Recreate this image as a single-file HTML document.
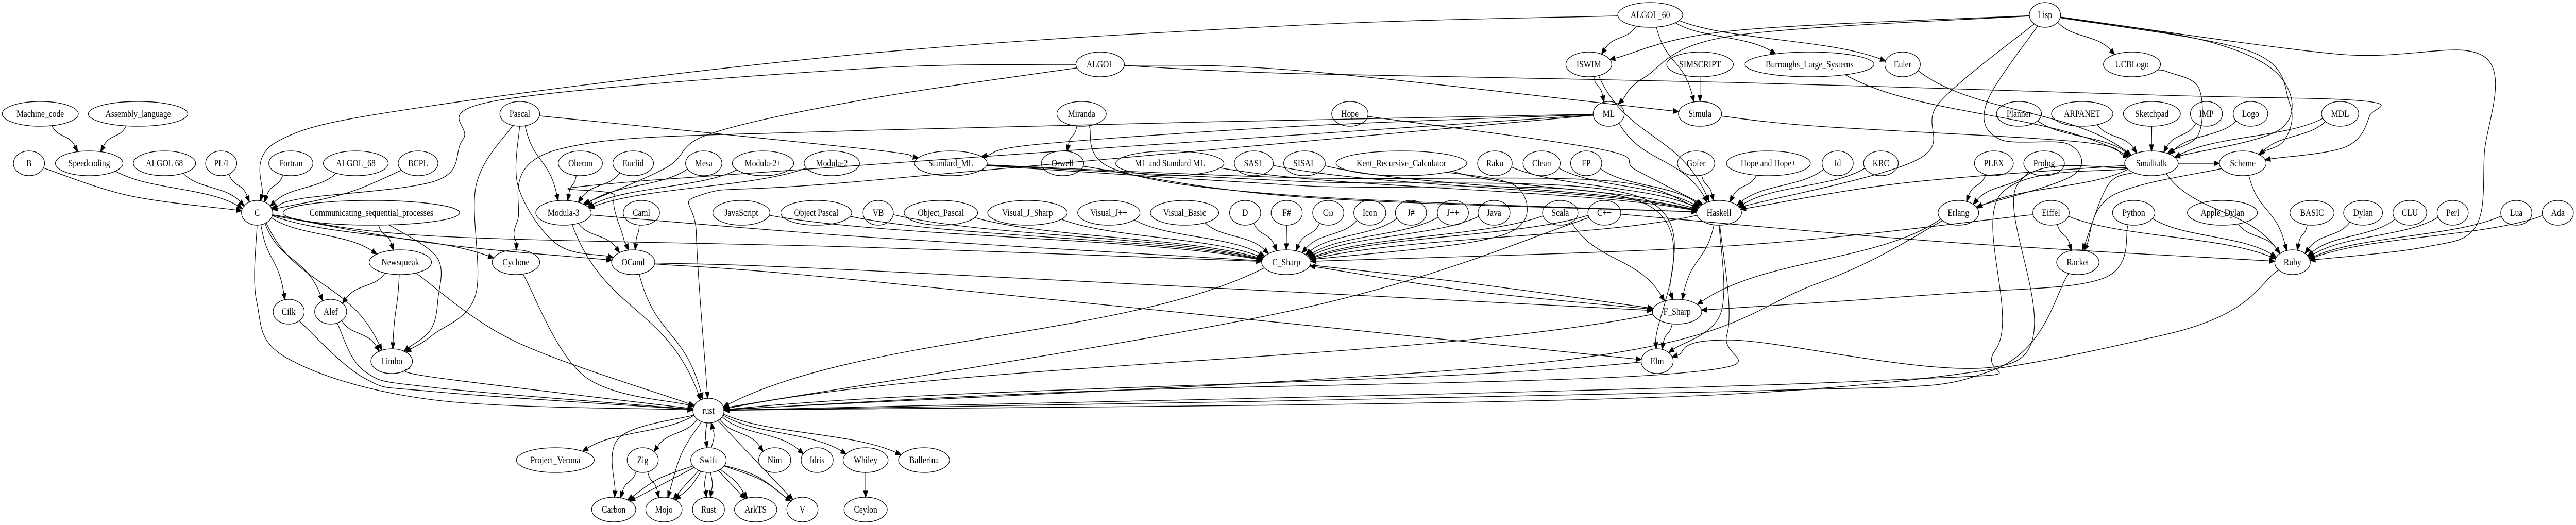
<!DOCTYPE html>
<html><head><meta charset="utf-8">
<style>
html,body{margin:0;padding:0;background:#fff;width:100%;height:100%;overflow:hidden;}
svg{display:block;width:100vw;height:100vh;}
text{font-family:"Liberation Serif","DejaVu Serif",serif;font-size:18.67px;text-anchor:middle;fill:#000;}
ellipse{fill:none;stroke:#000;stroke-width:1.33;}
</style></head><body>
<svg id="s" width="100%" height="100%" viewBox="0 0 5952 1019" preserveAspectRatio="none" xmlns="http://www.w3.org/2000/svg" overflow="hidden">
<g id="edges" fill="none" stroke="#000" stroke-width="1.33"></g>
<g id="nodes">
<g id="Machine_code"><ellipse cx="93" cy="221" rx="88" ry="24"/><text x="93" y="227">Machine_code</text></g>
<g id="Assembly_language"><ellipse cx="319" cy="221" rx="115" ry="24"/><text x="319" y="227">Assembly_language</text></g>
<g id="B"><ellipse cx="67" cy="317" rx="36" ry="24"/><text x="67" y="323">B</text></g>
<g id="Speedcoding"><ellipse cx="206" cy="317" rx="78" ry="24"/><text x="206" y="323">Speedcoding</text></g>
<g id="ALGOL68a"><ellipse cx="380" cy="317" rx="72" ry="24"/><text x="380" y="323">ALGOL 68</text></g>
<g id="PLI"><ellipse cx="511" cy="317" rx="36" ry="24"/><text x="511" y="323">PL/I</text></g>
<g id="Fortran"><ellipse cx="672" cy="317" rx="51" ry="24"/><text x="672" y="323">Fortran</text></g>
<g id="ALGOL_68"><ellipse cx="822" cy="317" rx="75" ry="24"/><text x="822" y="323">ALGOL_68</text></g>
<g id="BCPL"><ellipse cx="966" cy="317" rx="46" ry="24"/><text x="966" y="323">BCPL</text></g>
<g id="C"><ellipse cx="594" cy="413" rx="36" ry="24"/><text x="594" y="419">C</text></g>
<g id="CSP"><ellipse cx="858" cy="413" rx="204" ry="24"/><text x="858" y="419">Communicating_sequential_processes</text></g>
<g id="Newsqueak"><ellipse cx="925" cy="509" rx="72" ry="24"/><text x="925" y="515">Newsqueak</text></g>
<g id="Cilk"><ellipse cx="667" cy="605" rx="36" ry="24"/><text x="667" y="611">Cilk</text></g>
<g id="Alef"><ellipse cx="764" cy="605" rx="37" ry="24"/><text x="764" y="611">Alef</text></g>
<g id="Limbo"><ellipse cx="905" cy="701" rx="48" ry="24"/><text x="905" y="707">Limbo</text></g>
<g id="Pascal"><ellipse cx="1201" cy="221" rx="46" ry="24"/><text x="1201" y="227">Pascal</text></g>
<g id="Oberon"><ellipse cx="1341" cy="317" rx="51" ry="24"/><text x="1341" y="323">Oberon</text></g>
<g id="Euclid"><ellipse cx="1463" cy="317" rx="47" ry="24"/><text x="1463" y="323">Euclid</text></g>
<g id="Mesa"><ellipse cx="1626" cy="317" rx="42" ry="24"/><text x="1626" y="323">Mesa</text></g>
<g id="Modula2p"><ellipse cx="1763" cy="317" rx="71" ry="24"/><text x="1763" y="323">Modula-2+</text></g>
<g id="Modula2"><ellipse cx="1922" cy="317" rx="64" ry="24"/><text x="1922" y="323">Modula-2</text></g>
<g id="Modula3"><ellipse cx="1302" cy="413" rx="64" ry="24"/><text x="1302" y="419">Modula-3</text></g>
<g id="Caml"><ellipse cx="1482" cy="413" rx="42" ry="24"/><text x="1482" y="419">Caml</text></g>
<g id="JavaScript"><ellipse cx="1713" cy="413" rx="66" ry="24"/><text x="1713" y="419">JavaScript</text></g>
<g id="ObjectPascalS"><ellipse cx="1886" cy="413" rx="82" ry="24"/><text x="1886" y="419">Object Pascal</text></g>
<g id="VB"><ellipse cx="2029" cy="413" rx="35" ry="24"/><text x="2029" y="419">VB</text></g>
<g id="Cyclone"><ellipse cx="1192" cy="509" rx="55" ry="24"/><text x="1192" y="515">Cyclone</text></g>
<g id="OCaml"><ellipse cx="1463" cy="509" rx="50" ry="24"/><text x="1463" y="515">OCaml</text></g>
<g id="rust"><ellipse cx="1637" cy="797" rx="36" ry="24"/><text x="1637" y="803">rust</text></g>
<g id="Project_Verona"><ellipse cx="1283" cy="893" rx="90" ry="24"/><text x="1283" y="899">Project_Verona</text></g>
<g id="Zig"><ellipse cx="1485" cy="893" rx="36" ry="24"/><text x="1485" y="899">Zig</text></g>
<g id="Swift"><ellipse cx="1637" cy="893" rx="41" ry="24"/><text x="1637" y="899">Swift</text></g>
<g id="Nim"><ellipse cx="1790" cy="893" rx="37" ry="24"/><text x="1790" y="899">Nim</text></g>
<g id="Idris"><ellipse cx="1888" cy="893" rx="37" ry="24"/><text x="1888" y="899">Idris</text></g>
<g id="Whiley"><ellipse cx="2000" cy="893" rx="52" ry="24"/><text x="2000" y="899">Whiley</text></g>
<g id="Ballerina"><ellipse cx="2135" cy="893" rx="59" ry="24"/><text x="2135" y="899">Ballerina</text></g>
<g id="Carbon"><ellipse cx="1418" cy="989" rx="51" ry="24"/><text x="1418" y="995">Carbon</text></g>
<g id="Mojo"><ellipse cx="1534" cy="989" rx="42" ry="24"/><text x="1534" y="995">Mojo</text></g>
<g id="Rust"><ellipse cx="1637" cy="989" rx="37" ry="24"/><text x="1637" y="995">Rust</text></g>
<g id="ArkTS"><ellipse cx="1746" cy="989" rx="49" ry="24"/><text x="1746" y="995">ArkTS</text></g>
<g id="V"><ellipse cx="1854" cy="989" rx="36" ry="24"/><text x="1854" y="995">V</text></g>
<g id="Ceylon"><ellipse cx="2000" cy="989" rx="50" ry="24"/><text x="2000" y="995">Ceylon</text></g>
<g id="ALGOL"><ellipse cx="2542" cy="125" rx="56" ry="24"/><text x="2542" y="131">ALGOL</text></g>
<g id="Miranda"><ellipse cx="2499" cy="221" rx="57" ry="24"/><text x="2499" y="227">Miranda</text></g>
<g id="Standard_ML"><ellipse cx="2197" cy="317" rx="84" ry="24"/><text x="2197" y="323">Standard_ML</text></g>
<g id="Orwell"><ellipse cx="2455" cy="317" rx="49" ry="24"/><text x="2455" y="323">Orwell</text></g>
<g id="MLSML"><ellipse cx="2703" cy="317" rx="125" ry="24"/><text x="2703" y="323">ML and Standard ML</text></g>
<g id="SASL"><ellipse cx="2897" cy="317" rx="45" ry="24"/><text x="2897" y="323">SASL</text></g>
<g id="SISAL"><ellipse cx="3014" cy="317" rx="48" ry="24"/><text x="3014" y="323">SISAL</text></g>
<g id="Object_Pascal"><ellipse cx="2174" cy="413" rx="85" ry="24"/><text x="2174" y="419">Object_Pascal</text></g>
<g id="Visual_J_Sharp"><ellipse cx="2374" cy="413" rx="92" ry="24"/><text x="2374" y="419">Visual_J_Sharp</text></g>
<g id="Visual_Jpp"><ellipse cx="2562" cy="413" rx="72" ry="24"/><text x="2562" y="419">Visual_J++</text></g>
<g id="Visual_Basic"><ellipse cx="2737" cy="413" rx="79" ry="24"/><text x="2737" y="419">Visual_Basic</text></g>
<g id="D"><ellipse cx="2877" cy="413" rx="36" ry="24"/><text x="2877" y="419">D</text></g>
<g id="Fsh"><ellipse cx="2973" cy="413" rx="36" ry="24"/><text x="2973" y="419">F#</text></g>
<g id="C_Sharp"><ellipse cx="2972" cy="509" rx="57" ry="24"/><text x="2972" y="515">C_Sharp</text></g>
<g id="ALGOL_60"><ellipse cx="3813" cy="29" rx="75" ry="24"/><text x="3813" y="35">ALGOL_60</text></g>
<g id="ISWIM"><ellipse cx="3671" cy="125" rx="53" ry="24"/><text x="3671" y="131">ISWIM</text></g>
<g id="SIMSCRIPT"><ellipse cx="3928" cy="125" rx="77" ry="24"/><text x="3928" y="131">SIMSCRIPT</text></g>
<g id="Hope"><ellipse cx="3119" cy="221" rx="42" ry="24"/><text x="3119" y="227">Hope</text></g>
<g id="ML"><ellipse cx="3717" cy="221" rx="36" ry="24"/><text x="3717" y="227">ML</text></g>
<g id="Simula"><ellipse cx="3928" cy="221" rx="50" ry="24"/><text x="3928" y="227">Simula</text></g>
<g id="Kent"><ellipse cx="3238" cy="317" rx="151" ry="24"/><text x="3238" y="323">Kent_Recursive_Calculator</text></g>
<g id="Raku"><ellipse cx="3454" cy="317" rx="40" ry="24"/><text x="3454" y="323">Raku</text></g>
<g id="Clean"><ellipse cx="3562" cy="317" rx="43" ry="24"/><text x="3562" y="323">Clean</text></g>
<g id="FP"><ellipse cx="3665" cy="317" rx="36" ry="24"/><text x="3665" y="323">FP</text></g>
<g id="Gofer"><ellipse cx="3919" cy="317" rx="43" ry="24"/><text x="3919" y="323">Gofer</text></g>
<g id="HopeHope"><ellipse cx="4086" cy="317" rx="97" ry="24"/><text x="4086" y="323">Hope and Hope+</text></g>
<g id="Comega"><ellipse cx="3069" cy="413" rx="36" ry="24"/><text x="3069" y="419">Cω</text></g>
<g id="Icon"><ellipse cx="3165" cy="413" rx="37" ry="24"/><text x="3165" y="419">Icon</text></g>
<g id="Jsh"><ellipse cx="3260" cy="413" rx="36" ry="24"/><text x="3260" y="419">J#</text></g>
<g id="Jpp"><ellipse cx="3357" cy="413" rx="36" ry="24"/><text x="3357" y="419">J++</text></g>
<g id="Java"><ellipse cx="3452" cy="413" rx="37" ry="24"/><text x="3452" y="419">Java</text></g>
<g id="Scala"><ellipse cx="3605" cy="413" rx="41" ry="24"/><text x="3605" y="419">Scala</text></g>
<g id="Cpp"><ellipse cx="3707" cy="413" rx="38" ry="24"/><text x="3707" y="419">C++</text></g>
<g id="Haskell"><ellipse cx="3972" cy="413" rx="52" ry="24"/><text x="3972" y="419">Haskell</text></g>
<g id="F_Sharp"><ellipse cx="3875" cy="605" rx="57" ry="24"/><text x="3875" y="611">F_Sharp</text></g>
<g id="Elm"><ellipse cx="3829" cy="701" rx="37" ry="24"/><text x="3829" y="707">Elm</text></g>
<g id="Lisp"><ellipse cx="4725" cy="29" rx="36" ry="24"/><text x="4725" y="35">Lisp</text></g>
<g id="Burroughs"><ellipse cx="4181" cy="125" rx="149" ry="24"/><text x="4181" y="131">Burroughs_Large_Systems</text></g>
<g id="Euler"><ellipse cx="4396" cy="125" rx="41" ry="24"/><text x="4396" y="131">Euler</text></g>
<g id="UCBLogo"><ellipse cx="4926" cy="125" rx="66" ry="24"/><text x="4926" y="131">UCBLogo</text></g>
<g id="Planner"><ellipse cx="4665" cy="221" rx="52" ry="24"/><text x="4665" y="227">Planner</text></g>
<g id="ARPANET"><ellipse cx="4811" cy="221" rx="71" ry="24"/><text x="4811" y="227">ARPANET</text></g>
<g id="Sketchpad"><ellipse cx="4972" cy="221" rx="66" ry="24"/><text x="4972" y="227">Sketchpad</text></g>
<g id="Id"><ellipse cx="4246" cy="317" rx="36" ry="24"/><text x="4246" y="323">Id</text></g>
<g id="KRC"><ellipse cx="4346" cy="317" rx="40" ry="24"/><text x="4346" y="323">KRC</text></g>
<g id="PLEX"><ellipse cx="4607" cy="317" rx="45" ry="24"/><text x="4607" y="323">PLEX</text></g>
<g id="Prolog"><ellipse cx="4723" cy="317" rx="47" ry="24"/><text x="4723" y="323">Prolog</text></g>
<g id="Smalltalk"><ellipse cx="4971" cy="317" rx="62" ry="24"/><text x="4971" y="323">Smalltalk</text></g>
<g id="Erlang"><ellipse cx="4525" cy="413" rx="47" ry="24"/><text x="4525" y="419">Erlang</text></g>
<g id="Eiffel"><ellipse cx="4739" cy="413" rx="42" ry="24"/><text x="4739" y="419">Eiffel</text></g>
<g id="Python"><ellipse cx="4930" cy="413" rx="49" ry="24"/><text x="4930" y="419">Python</text></g>
<g id="Racket"><ellipse cx="4801" cy="509" rx="49" ry="24"/><text x="4801" y="515">Racket</text></g>
<g id="IMP"><ellipse cx="5098" cy="221" rx="37" ry="24"/><text x="5098" y="227">IMP</text></g>
<g id="Logo"><ellipse cx="5200" cy="221" rx="40" ry="24"/><text x="5200" y="227">Logo</text></g>
<g id="MDL"><ellipse cx="5407" cy="221" rx="43" ry="24"/><text x="5407" y="227">MDL</text></g>
<g id="Scheme"><ellipse cx="5182" cy="317" rx="54" ry="24"/><text x="5182" y="323">Scheme</text></g>
<g id="Apple_Dylan"><ellipse cx="5135" cy="413" rx="81" ry="24"/><text x="5135" y="419">Apple_Dylan</text></g>
<g id="BASIC"><ellipse cx="5342" cy="413" rx="51" ry="24"/><text x="5342" y="419">BASIC</text></g>
<g id="Dylan"><ellipse cx="5460" cy="413" rx="45" ry="24"/><text x="5460" y="419">Dylan</text></g>
<g id="CLU"><ellipse cx="5568" cy="413" rx="39" ry="24"/><text x="5568" y="419">CLU</text></g>
<g id="Perl"><ellipse cx="5667" cy="413" rx="36" ry="24"/><text x="5667" y="419">Perl</text></g>
<g id="Lua"><ellipse cx="5814" cy="413" rx="36" ry="24"/><text x="5814" y="419">Lua</text></g>
<g id="Ada"><ellipse cx="5910" cy="413" rx="36" ry="24"/><text x="5910" y="419">Ada</text></g>
<g id="Ruby"><ellipse cx="5297" cy="509" rx="41" ry="24"/><text x="5297" y="515">Ruby</text></g>
</g>
</svg>
<script>
(function(){
var E=[
["Machine_code","Speedcoding"],["Assembly_language","Speedcoding"],
["B","C",[[300,380]]],["Speedcoding","C"],["ALGOL68a","C"],["PLI","C"],["Fortran","C"],["ALGOL_68","C"],["BCPL","C",[[800,375]]],
["ALGOL_60","C",[[3000,49],[2000,104],[1000,205],[640,275]]],
["ALGOL","C",[[2000,133],[1150,195],[1070,270],[1010,350],[700,385]]],
["ALGOL","Modula3",[[2000,193],[1640,260],[1540,325]]],
["ALGOL","Simula",[[3000,137]]],
["ALGOL","Scheme",[[3000,143],[4000,160],[5000,185],[5461,196],[5475,225],[5420,285]]],
["C","Newsqueak"],["C","Cilk"],["C","Alef"],["C","Limbo"],
["C","rust",[[593,585],[663,695],[1000,776]]],["C","Cyclone"],["C","OCaml",[[1000,472]]],["C","C_Sharp",[[1000,458],[2000,480]]],
["CSP","Newsqueak"],["CSP","Limbo",[[1010,500],[1012,580],[995,640]]],
["Newsqueak","Alef"],["Newsqueak","Limbo"],["Alef","Limbo"],
["Cilk","rust",[[842,734],[1000,760]]],["Alef","rust",[[843,721],[1000,752]]],["Limbo","rust",[[1000,732]]],["Newsqueak","rust",[[1191,663]]],
["Pascal","Modula3"],["Pascal","OCaml",[[1198,364],[1287,474]]],["Pascal","Limbo",[[1100,360],[1099,572],[1000,650]]],["Pascal","Standard_ML",[[2000,289]]],
["Oberon","Modula3"],["Euclid","Modula3"],["Mesa","Modula3"],["Modula2p","Modula3"],["Modula2","Modula3"],
["Modula3","OCaml"],["Modula3","rust"],["Modula3","C_Sharp",[[2000,460]]],["Caml","OCaml"],["OCaml","rust"],
["OCaml","F_Sharp",[[2000,525]]],["OCaml","Elm",[[2000,545]]],["Cyclone","rust",[[1350,730]]],
["JavaScript","C_Sharp"],["ObjectPascalS","C_Sharp"],["VB","C_Sharp"],["Object_Pascal","C_Sharp"],["Visual_J_Sharp","C_Sharp"],
["Visual_Jpp","C_Sharp"],["Visual_Basic","C_Sharp"],["D","C_Sharp"],["Fsh","C_Sharp"],["Comega","C_Sharp"],["Icon","C_Sharp"],
["Jsh","C_Sharp"],["Jpp","C_Sharp"],["Java","C_Sharp"],["Scala","C_Sharp"],["Cpp","C_Sharp"],["Haskell","C_Sharp"],
["Eiffel","C_Sharp",[[4000,477]]],["Kent","C_Sharp",[[3500,360],[3520,430],[3400,470]]],
["Standard_ML","Haskell",[[3000,345],[3700,350]]],["Standard_ML","F_Sharp",[[3000,352],[3780,380]]],["Standard_ML","Elm",[[3000,360],[3800,395]]],
["ML","Standard_ML",[[3000,245],[2400,280]]],["ML","Cyclone",[[2000,253],[1290,290],[1195,430]]],
["ML","OCaml",[[1500,350],[1420,380],[1440,460]]],["ML","rust",[[2000,351],[1625,377],[1609,455]]],
["Miranda","Orwell"],["Miranda","Haskell",[[2580,330],[3000,380]]],["Orwell","Haskell",[[3000,382]]],
["MLSML","Haskell"],["SASL","Haskell"],["SISAL","Haskell"],["Kent","Haskell"],["Raku","Haskell"],["Clean","Haskell"],["FP","Haskell"],
["Gofer","Haskell"],["HopeHope","Haskell"],["Id","Haskell"],["KRC","Haskell"],["Hope","Haskell",[[3700,290],[3780,330]]],["ML","Haskell"],["ISWIM","Haskell"],
["ALGOL_60","ISWIM"],["Lisp","ISWIM",[[4000,60]]],["ALGOL_60","Simula"],["SIMSCRIPT","Simula"],["ISWIM","ML"],["Lisp","ML",[[4000,70],[3800,150]]],
["ALGOL_60","Burroughs"],["ALGOL_60","Euler"],
["Lisp","UCBLogo"],["Lisp","Haskell",[[4480,200],[4430,310]]],["Lisp","Erlang",[[4590,200],[4620,270],[4780,280],[4790,340]]],
["Lisp","Scheme",[[5200,100],[5290,200],[5280,270]]],["Lisp","Ruby",[[5400,105],[5740,110],[5740,300],[5720,440],[5600,480]]],
["Lisp","Smalltalk",[[5100,80],[5270,150],[5270,250]]],
["Simula","Smalltalk",[[4200,245],[4800,275]]],["Burroughs","Smalltalk"],["Euler","Smalltalk"],["Planner","Smalltalk"],["ARPANET","Smalltalk"],
["Sketchpad","Smalltalk"],["IMP","Smalltalk"],["Logo","Smalltalk"],["MDL","Smalltalk"],["MDL","Scheme"],
["UCBLogo","Smalltalk",[[5010,140],[5080,170],[5080,260]]],
["Smalltalk","Ruby"],["Smalltalk","Racket",[[4870,360]]],["Smalltalk","Erlang"],["Smalltalk","Haskell",[[4400,355]]],["Smalltalk","Scheme"],
["Scheme","Ruby"],["Scheme","Racket",[[4880,380]]],
["Apple_Dylan","Ruby"],["BASIC","Ruby"],["Dylan","Ruby"],["CLU","Ruby"],["Perl","Ruby"],["Lua","Ruby"],["Ada","Ruby"],["Python","Ruby"],
["Eiffel","Ruby"],["Eiffel","Racket"],["Python","F_Sharp",[[4860,540],[4500,570]]],["Cpp","Ruby",[[4500,470]]],
["PLEX","Erlang"],["Prolog","Erlang"],["Erlang","F_Sharp"],["Erlang","rust",[[4200,550],[3600,700]]],
["Haskell","F_Sharp"],["Haskell","Elm",[[3975,610]]],["Haskell","rust",[[3990,650],[3870,725],[2500,760]]],
["Scala","F_Sharp"],["C_Sharp","F_Sharp",[[3400,550]]],["F_Sharp","C_Sharp",[[3400,565]]],["F_Sharp","Elm"],["Cpp","rust",[[3000,600]]],
["C_Sharp","rust"],["F_Sharp","rust"],["Elm","rust"],["Racket","rust",[[4600,720],[4000,760]]],["Ruby","rust",[[5000,650],[4000,765]]],
["Smalltalk","rust",[[4620,380],[4610,680],[4300,740]]],["Smalltalk","Elm",[[4660,360],[4660,700],[4000,660]]],
["rust","Project_Verona"],["rust","Zig"],["rust","Swift",[[1630,845]]],["Swift","rust",[[1650,845]]],["rust","Nim"],["rust","Idris"],
["rust","Whiley"],["rust","Ballerina"],["rust","Carbon",[[1430,850]]],["rust","Mojo",[[1575,880]]],["rust","V",[[1730,880]]],
["Swift","Carbon",[[1520,930]]],["Swift","Carbon",[[1530,940]]],["Swift","Mojo",[[1585,940]]],["Swift","Mojo",[[1595,945]]],
["Swift","Rust",[[1628,940]]],["Swift","Rust",[[1646,940]]],["Swift","ArkTS",[[1690,940]]],["Swift","ArkTS",[[1700,935]]],
["Swift","V",[[1750,925]]],["Swift","V",[[1760,932]]],["Zig","Carbon"],["Zig","Mojo"],["Whiley","Ceylon"]
];
var NS="http://www.w3.org/2000/svg",G=document.getElementById("edges");
function nd(id){var e=document.getElementById(id).querySelector("ellipse");return{x:+e.getAttribute("cx"),y:+e.getAttribute("cy"),rx:+e.getAttribute("rx"),ry:24};}
function bp(n,p){var dx=p[0]-n.x,dy=p[1]-n.y;var t=1/Math.sqrt((dx/n.rx)*(dx/n.rx)+(dy/n.ry)*(dy/n.ry));return[n.x+dx*t,n.y+dy*t];}
function f(v){return v.toFixed(1);}
E.forEach(function(e){
 var s=nd(e[0]),t=nd(e[1]),w=e[2]||[];
 var first=w.length?w[0]:[t.x,t.y],last=w.length?w[w.length-1]:[s.x,s.y];
 var P0=bp(s,first),P3=bp(t,last);
 var segs=[],pts=[P0].concat(w).concat([P3]);
 if(!w.length){var dx=P3[0]-P0[0],dy=P3[1]-P0[1];
  segs.push([P0,[P0[0]+dx*0.25,P0[1]+dy*0.5],[P3[0]-dx*0.25,P3[1]-dy*0.5],P3]);}
 else{for(var i=0;i<pts.length-1;i++){var a=pts[Math.max(0,i-1)],b=pts[i],c=pts[i+1],d=pts[Math.min(pts.length-1,i+2)];
  segs.push([b,[b[0]+(c[0]-a[0])/6,b[1]+(c[1]-a[1])/6],[c[0]-(d[0]-b[0])/6,c[1]-(d[1]-b[1])/6],c]);}}
 var L=segs[segs.length-1],ux=L[3][0]-L[2][0],uy=L[3][1]-L[2][1],m=Math.sqrt(ux*ux+uy*uy)||1;ux/=m;uy/=m;
 var tip=L[3].slice(),al=12;L[3]=[tip[0]-ux*al,tip[1]-uy*al];L[2]=[L[2][0]-ux*al,L[2][1]-uy*al];
 var d="M"+f(segs[0][0][0])+","+f(segs[0][0][1]);
 segs.forEach(function(q){d+=" C"+f(q[1][0])+","+f(q[1][1])+" "+f(q[2][0])+","+f(q[2][1])+" "+f(q[3][0])+","+f(q[3][1]);});
 var p=document.createElementNS(NS,"path");p.setAttribute("d",d);G.appendChild(p);
 var bx=L[3][0],by=L[3][1],px=-uy*4.7,py=ux*4.7;
 var a=document.createElementNS(NS,"polygon");
 a.setAttribute("points",f(tip[0])+","+f(tip[1])+" "+f(bx+px)+","+f(by+py)+" "+f(bx-px)+","+f(by-py));
 a.setAttribute("fill","#000");G.appendChild(a);
});
})();
</script>
</body></html>
